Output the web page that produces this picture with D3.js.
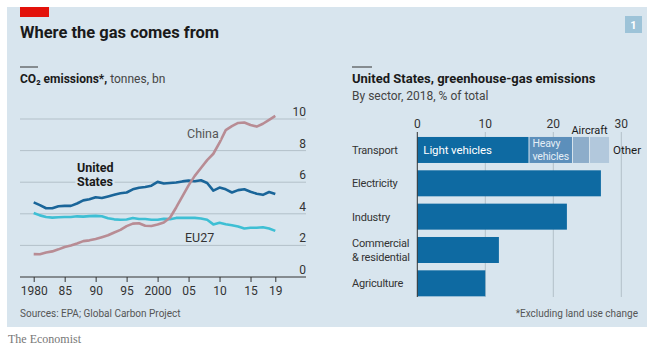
<!DOCTYPE html>
<html lang="en">
<head>
<meta charset="UTF-8">
<title>Where the gas comes from</title>
<script src="https://d3js.org/d3.v7.min.js"></script>
<style>
  body { margin: 0; background: #fff; font-family: Roboto, "Open Sans", sans-serif; }
  svg text { font-family: Roboto, sans-serif; }
</style>
</head>
<body>
<svg width="659" height="354"></svg>
<script>
  // left chart: CO2 emissions, tonnes bn
  const years = d3.range(1980, 2020);
  const usValues = [4.72, 4.55, 4.35, 4.35, 4.48, 4.5, 4.5, 4.65, 4.85, 4.92,
    5.05, 5.0, 5.1, 5.2, 5.3, 5.35, 5.55, 5.65, 5.7, 5.78,
    6.02, 5.92, 5.95, 5.98, 6.05, 6.1, 6.06, 6.12, 5.95, 5.47,
    5.66, 5.55, 5.35, 5.5, 5.55, 5.4, 5.27, 5.2, 5.38, 5.25];
  const euValues = [4.05, 3.9, 3.8, 3.76, 3.78, 3.8, 3.8, 3.84, 3.82, 3.85,
    3.87, 3.84, 3.72, 3.65, 3.62, 3.64, 3.73, 3.67, 3.67, 3.62,
    3.62, 3.68, 3.66, 3.74, 3.75, 3.74, 3.74, 3.7, 3.62, 3.33,
    3.43, 3.34, 3.28, 3.2, 3.07, 3.12, 3.12, 3.15, 3.07, 2.92];
  const chinaValues = [1.45, 1.44, 1.55, 1.62, 1.75, 1.9, 2.0, 2.12, 2.27, 2.32,
    2.4, 2.52, 2.64, 2.82, 2.98, 3.22, 3.38, 3.4, 3.24, 3.23,
    3.32, 3.45, 3.75, 4.4, 5.1, 5.8, 6.4, 6.9, 7.4, 7.8,
    8.5, 9.3, 9.55, 9.75, 9.78, 9.62, 9.52, 9.7, 9.95, 10.2];
  const yTicks = [0, 2, 4, 6, 8, 10];
  const xTicks = [1980, 1985, 1990, 1995, 2000, 2005, 2010, 2015, 2019];
  const xTickLabels = ["1980", "85", "90", "95", "2000", "05", "10", "15", "19"];

  // right chart: US greenhouse-gas emissions by sector, % of total
  const sectors = ["Transport", "Electricity", "Industry", "Commercial\n& residential", "Agriculture"];
  const sectorValues = [28.2, 27.0, 22.0, 12.0, 10.0];
  const transportParts = ["Light vehicles", "Heavy vehicles", "Aircraft", "Other"];
  const transportValues = [16.5, 6.4, 2.5, 2.8];
  const barTicks = [0, 10, 20, 30];

  const bg = "#d8e5ee";
  const svg = d3.select("svg");

  svg.append("rect").attr("x", 7).attr("y", 7).attr("width", 640).attr("height", 320).attr("fill", bg);
  svg.append("rect").attr("x", 20).attr("y", 7).attr("width", 29).attr("height", 10).attr("fill", "#e3120b");

  svg.append("text").attr("x", 20).attr("y", 38)
    .attr("font-size", 16.5).attr("font-weight", 700).attr("fill", "#1a1a1a")
    .text("Where the gas comes from");

  // chart number box
  svg.append("rect").attr("x", 625).attr("y", 16).attr("width", 17).attr("height", 17).attr("fill", "#9dc3d8");
  svg.append("text").attr("x", 633.5).attr("y", 29).attr("text-anchor", "middle")
    .attr("font-size", 11).attr("font-weight", 700).attr("fill", "#fff").text("1");

  // ---------- left chart ----------
  svg.append("line").attr("x1", 20).attr("x2", 38).attr("y1", 67).attr("y2", 67).attr("stroke", "#333");
  const sub1 = svg.append("text").attr("x", 20).attr("y", 83).attr("font-size", 12).attr("fill", "#1a1a1a");
  sub1.append("tspan").attr("font-weight", 700).text("CO₂ emissions*,");
  sub1.append("tspan").attr("fill", "#444").text(" tonnes, bn");

  const x = d3.scaleLinear().domain([1980, 2019]).range([33.7, 275.3]);
  const y = d3.scaleLinear().domain([0, 10]).range([277, 119]);

  const gL = svg.append("g");
  gL.selectAll(".grid").data(yTicks.filter(d => d > 0)).join("line")
    .attr("x1", 20).attr("x2", 306)
    .attr("y1", d => y(d)).attr("y2", d => y(d))
    .attr("stroke", "#b3c0c9").attr("stroke-width", 1);

  gL.selectAll(".ylab").data(yTicks).join("text")
    .attr("x", 306).attr("y", d => y(d) - 3)
    .attr("text-anchor", "end").attr("font-size", 12).attr("fill", "#333")
    .text(d => d);

  const xAxis = d3.axisBottom(x).tickValues(xTicks).tickSize(5)
    .tickFormat((d, i) => xTickLabels[i]);
  const ax = gL.append("g").attr("transform", "translate(0,277)").call(xAxis);
  ax.select(".domain").remove();
  ax.selectAll("line").attr("stroke", "#333");
  ax.selectAll("text").attr("font-size", 12).attr("fill", "#333").attr("dy", "0.85em")
    .style("font-family", "Roboto, sans-serif");
  gL.append("line").attr("x1", 20).attr("x2", 306).attr("y1", 277).attr("y2", 277)
    .attr("stroke", "#333").attr("stroke-width", 1);

  const line = d3.line().x((d, i) => x(years[i])).y(d => y(d));
  const series = [
    { values: euValues, color: "#3ebfd4" },
    { values: usValues, color: "#1a6599" },
    { values: chinaValues, color: "#b88c94" }
  ];
  gL.selectAll(".series").data(series).join("path")
    .attr("d", d => line(d.values))
    .attr("fill", "none").attr("stroke", d => d.color)
    .attr("stroke-width", 2.6).attr("stroke-linejoin", "round");

  function halo(sel) {
    sel.attr("stroke", bg).attr("stroke-width", 4).attr("paint-order", "stroke");
  }
  gL.append("text").attr("x", 187).attr("y", 138).attr("font-size", 12.5).attr("fill", "#555")
    .text("China").call(halo);
  const usLab = gL.append("text").attr("font-size", 12.5).attr("font-weight", 700).attr("fill", "#1a1a1a").call(halo);
  usLab.append("tspan").attr("x", 77).attr("y", 172).text("United");
  usLab.append("tspan").attr("x", 77).attr("y", 186).text("States");
  gL.append("text").attr("x", 185).attr("y", 242).attr("font-size", 12.5).attr("fill", "#333")
    .text("EU27").call(halo);

  svg.append("text").attr("x", 20).attr("y", 317).attr("font-size", 10).attr("fill", "#555")
    .text("Sources: EPA; Global Carbon Project");

  // ---------- right chart ----------
  svg.append("line").attr("x1", 352).attr("x2", 372).attr("y1", 67).attr("y2", 67).attr("stroke", "#333");
  svg.append("text").attr("x", 352).attr("y", 83).attr("font-size", 13).attr("font-weight", 700)
    .attr("fill", "#1a1a1a").text("United States, greenhouse-gas emissions");
  svg.append("text").attr("x", 352).attr("y", 100).attr("font-size", 12).attr("fill", "#444")
    .text("By sector, 2018, % of total");

  const xb = d3.scaleLinear().domain([0, 30]).range([417.3, 621.3]);
  const yb = d3.scaleBand().domain(sectors).range([133.3, 300]).paddingInner(0.22).paddingOuter(0.11);
  const gR = svg.append("g");

  gR.selectAll(".vgrid").data(barTicks.filter(d => d > 0)).join("line")
    .attr("x1", d => xb(d)).attr("x2", d => xb(d)).attr("y1", 132).attr("y2", 297)
    .attr("stroke", "#b3c0c9");
  gR.selectAll(".xlab").data(barTicks).join("text")
    .attr("x", d => xb(d)).attr("y", 128).attr("text-anchor", "middle")
    .attr("font-size", 12).attr("fill", "#333").text(d => d);

  const barColor = "#0e6aa2";
  gR.selectAll(".bar").data(sectors.slice(1)).join("rect")
    .attr("x", xb(0)).attr("y", d => yb(d))
    .attr("width", (d, i) => xb(sectorValues[i + 1]) - xb(0))
    .attr("height", yb.bandwidth()).attr("fill", barColor);

  const partColors = [barColor, "#5c8fbb", "#8dadca", "#b2c8dc"];
  const stack = d3.cumsum(transportValues);
  gR.selectAll(".part").data(transportValues).join("rect")
    .attr("x", (d, i) => xb(stack[i] - d))
    .attr("y", yb("Transport"))
    .attr("width", (d, i) => xb(stack[i]) - xb(stack[i] - d) - (i < 3 ? 1 : 0))
    .attr("height", yb.bandwidth())
    .attr("fill", (d, i) => partColors[i]);

  const ty = yb("Transport") + yb.bandwidth() / 2;
  gR.append("text").attr("x", xb(0) + 6).attr("y", ty + 4).attr("font-size", 11.5).attr("fill", "#fff")
    .attr("letter-spacing", -0.1).text(transportParts[0]);
  const hv = gR.append("text").attr("font-size", 10.5).attr("fill", "#e4eef6").attr("letter-spacing", -0.2);
  const hvWords = transportParts[1].split(" ");
  hv.append("tspan").attr("x", xb(stack[0]) + 3).attr("y", ty - 3).text(hvWords[0]);
  hv.append("tspan").attr("x", xb(stack[0]) + 3).attr("y", ty + 10).text(hvWords[1]);
  gR.append("text").attr("x", xb(stack[2] - transportValues[2] / 2) + 8).attr("y", yb("Transport") - 3)
    .attr("text-anchor", "middle").attr("font-size", 11).attr("fill", "#1a1a1a").call(halo)
    .text(transportParts[2]);
  gR.append("text").attr("x", xb(stack[3]) + 4).attr("y", ty + 4).attr("font-size", 11.5).attr("fill", "#1a1a1a")
    .text(transportParts[3]);

  gR.selectAll(".cat").data(sectors).join("text")
    .attr("font-size", 11).attr("fill", "#333").attr("letter-spacing", -0.2)
    .each(function(d) {
      const parts = d.split("\n");
      const c = yb(d) + yb.bandwidth() / 2;
      const t = d3.select(this);
      parts.forEach((p, i) => {
        t.append("tspan").attr("x", 352)
          .attr("y", c + 4 + (i - (parts.length - 1) / 2) * 14).text(p);
      });
    });

  gR.append("line").attr("x1", xb(0)).attr("x2", xb(0)).attr("y1", 132).attr("y2", 297)
    .attr("stroke", "#333");

  svg.append("text").attr("x", 638).attr("y", 317).attr("text-anchor", "end")
    .attr("font-size", 10).attr("fill", "#555").text("*Excluding land use change");

  svg.append("text").attr("x", 8).attr("y", 343).attr("font-size", 12)
    .style("font-family", "'Liberation Serif', serif")
    .attr("fill", "#777").text("The Economist");
</script>
</body>
</html>
